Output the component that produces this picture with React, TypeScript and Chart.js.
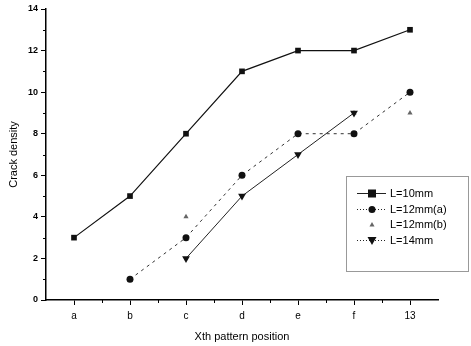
import React, { useEffect, useRef } from "react";
import { Chart, registerables } from "chart.js";

Chart.register(...registerables);

const categories = ["a", "b", "c", "d", "e", "f", "13"];
const seriesNames = ["L=10mm", "L=12mm(a)", "L=12mm(b)", "L=14mm"];
const l10 = [3, 5, 8, 11, 12, 12, 13];
const l12a = [null, 1, 3, 6, 8, 8, 10];
const l12b = [null, null, 4, 6, 8, 9, 9];
const l14 = [null, null, 2, 5, 7, 9, null];
const yMin = 0;
const yMax = 14;
const yStep = 2;
const xTitle = "Xth pattern position";
const yTitle = "Crack density";

const FONT = '"Liberation Sans", Arial, sans-serif';

const minorTicks = {
  id: "minorTicks",
  afterDraw(chart: any) {
    const ctx = chart.ctx;
    const x = chart.scales.x;
    const y = chart.scales.y;
    ctx.save();
    ctx.strokeStyle = "#000";
    ctx.lineWidth = 1;
    for (let v = yMin + 1; v < yMax; v += 2) {
      const py = Math.round(y.getPixelForValue(v)) + 0.5;
      ctx.beginPath();
      ctx.moveTo(x.left - 3, py);
      ctx.lineTo(x.left, py);
      ctx.stroke();
    }
    for (let i = 0; i < categories.length - 1; i++) {
      const px = Math.round((x.getPixelForTick(i) + x.getPixelForTick(i + 1)) / 2) + 0.5;
      ctx.beginPath();
      ctx.moveTo(px, y.bottom);
      ctx.lineTo(px, y.bottom + 3);
      ctx.stroke();
    }
    ctx.restore();
  },
};

function drawMarker(ctx: any, style: string, cx: number, cy: number, r: number, fill: string) {
  ctx.fillStyle = fill;
  ctx.beginPath();
  if (style === "rect") {
    ctx.rect(cx - r, cy - r, 2 * r, 2 * r);
  } else if (style === "circle") {
    ctx.arc(cx, cy, r, 0, Math.PI * 2);
  } else if (style === "triangle") {
    ctx.moveTo(cx, cy - r);
    ctx.lineTo(cx + r, cy + r * 0.8);
    ctx.lineTo(cx - r, cy + r * 0.8);
    ctx.closePath();
  } else {
    ctx.moveTo(cx, cy + r);
    ctx.lineTo(cx + r, cy - r * 0.8);
    ctx.lineTo(cx - r, cy - r * 0.8);
    ctx.closePath();
  }
  ctx.fill();
}

const boxLegend = {
  id: "boxLegend",
  afterDraw(chart: any) {
    const ctx = chart.ctx;
    const bx = 346.5;
    const by = 176.5;
    const bw = 122;
    const bh = 95;
    ctx.save();
    ctx.strokeStyle = "#333";
    ctx.lineWidth = 1;
    ctx.setLineDash([1, 1]);
    ctx.strokeRect(bx, by, bw, bh);
    const styles = [
      { m: "rect", r: 4, fill: "#111", dash: [] as number[], line: true },
      { m: "circle", r: 3.5, fill: "#111", dash: [1, 2], line: true },
      { m: "triangle", r: 2.5, fill: "#666", dash: [] as number[], line: false },
      { m: "down", r: 4.5, fill: "#111", dash: [1, 2], line: true },
    ];
    const rows = [193, 209, 224, 240];
    ctx.font = "11px " + FONT;
    ctx.textBaseline = "middle";
    for (let i = 0; i < seriesNames.length; i++) {
      const s = styles[i];
      const yy = rows[i] + 0.5;
      if (s.line) {
        ctx.setLineDash(s.dash);
        ctx.strokeStyle = "#222";
        ctx.lineWidth = 1;
        ctx.beginPath();
        ctx.moveTo(357, yy);
        ctx.lineTo(386, yy);
        ctx.stroke();
      }
      ctx.setLineDash([]);
      drawMarker(ctx, s.m, 372, yy, s.r, s.fill);
      ctx.fillStyle = "#000";
      ctx.fillText(seriesNames[i], 390, yy);
    }
    ctx.restore();
  },
};

export default function App() {
  const ref = useRef<HTMLCanvasElement>(null);
  useEffect(() => {
    if (!ref.current) return;
    const chart = new Chart(ref.current, {
      type: "line",
      data: {
        labels: categories,
        datasets: [
          {
            label: seriesNames[2],
            data: l12b,
            showLine: false,
            pointStyle: "triangle",
            pointRadius: 3,
            backgroundColor: "#666",
            borderColor: "#666",
            borderWidth: 0,
            order: 4,
          },
          {
            label: seriesNames[0],
            data: l10,
            borderColor: "#111",
            backgroundColor: "#111",
            borderWidth: 1.2,
            pointStyle: "rect",
            pointRadius: 4,
            pointBorderWidth: 0,
            order: 1,
          },
          {
            label: seriesNames[1],
            data: l12a,
            borderColor: "#333",
            backgroundColor: "#111",
            borderWidth: 1,
            borderDash: [3, 4],
            pointStyle: "circle",
            pointRadius: 3.5,
            pointBorderWidth: 0,
            order: 2,
          },
          {
            label: seriesNames[3],
            data: l14,
            borderColor: "#222",
            backgroundColor: "#111",
            borderWidth: 1,
            pointStyle: "triangle",
            pointRotation: 180,
            pointRadius: 4.5,
            pointBorderWidth: 0,
            order: 3,
          },
        ],
      },
      options: {
        animation: false,
        responsive: false,
        spanGaps: false,
        layout: { padding: { top: 9, right: 33, left: 0, bottom: 0 } },
        plugins: { legend: { display: false }, tooltip: { enabled: false } },
        scales: {
          x: {
            type: "category",
            offset: true,
            grid: {
              display: true,
              drawOnChartArea: false,
              offset: false,
              tickLength: 5,
              color: "#000",
              tickWidth: 1,
            },
            border: { color: "#000", width: 1.5 },
            ticks: { color: "#000", font: { size: 10, family: FONT }, padding: 5 },
            title: {
              display: true,
              text: xTitle,
              color: "#000",
              font: { size: 11, family: FONT },
              padding: { top: 0, bottom: 2 },
            },
            afterFit: (s: any) => {
              s.height = 46;
            },
          },
          y: {
            min: yMin,
            max: yMax,
            grid: {
              display: true,
              drawOnChartArea: false,
              tickLength: 5,
              color: "#000",
              tickWidth: 1,
            },
            border: { color: "#000", width: 1.5 },
            ticks: { stepSize: yStep, color: "#000", font: { size: 9, family: FONT, weight: "bold" }, padding: 3 },
            title: {
              display: true,
              text: yTitle,
              color: "#000",
              font: { size: 11, family: FONT },
              padding: { top: 7, bottom: 0 },
            },
            afterFit: (s: any) => {
              s.width = 46;
            },
          },
        },
      },
      plugins: [minorTicks, boxLegend],
    });
    return () => chart.destroy();
  }, []);
  return (
    <div style={{ position: "absolute", left: 0, top: 0, width: 471, height: 346, background: "#fff" }}>
      <canvas ref={ref} width={471} height={346} style={{ width: 471, height: 346 }} />
    </div>
  );
}
